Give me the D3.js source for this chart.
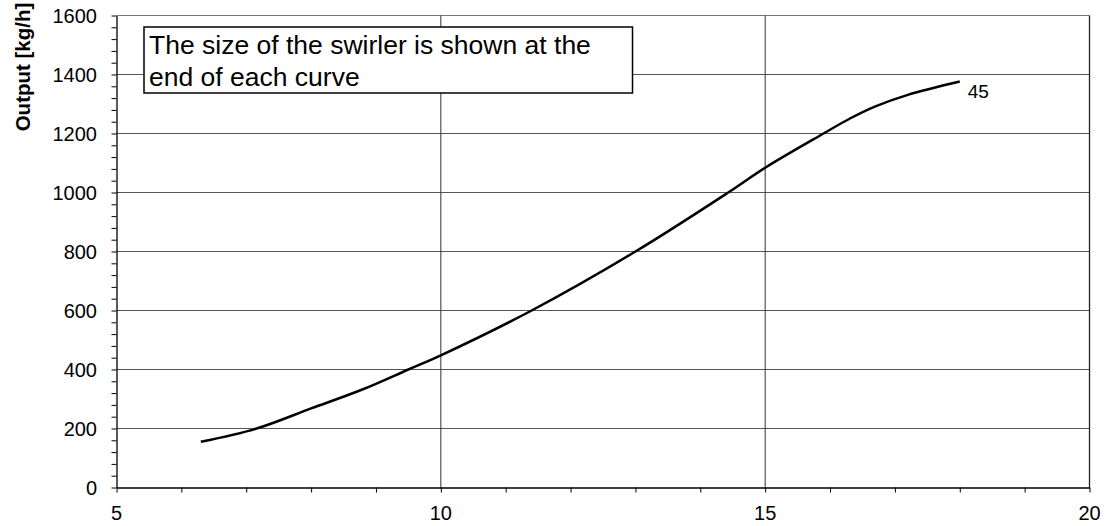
<!DOCTYPE html>
<html>
<head>
<meta charset="utf-8">
<script src="https://cdn.jsdelivr.net/npm/d3@7"></script>
<style>
  body { margin: 0; background: #fff; }
  svg { display: block; font-family: "Liberation Sans", Arial, sans-serif; }
</style>
</head>
<body>
<svg id="chart" width="1109" height="526"></svg>
<script>
// curve values (x, output kg/h)
const curveX = [6.3, 7.16, 8.0, 8.8, 9.5, 10, 11.4, 13.0, 14.43, 15, 15.9, 16.3, 16.7, 17.2, 18];
const curveY = [155, 200, 268, 333, 400, 448, 600, 800, 1000, 1084, 1200, 1250, 1292, 1331, 1376];
const curveLabel = '45';

const xTicks = [5, 10, 15, 20];
const yTicks = [0, 200, 400, 600, 800, 1000, 1200, 1400, 1600];
const xMinor = d3.range(5, 21, 1);
const yMinor = d3.range(0, 1601, 40);

const yTitle = 'Output [kg/h]';
const noteLines = ['The size of the swirler is shown at the', 'end of each curve'];

const plot = { left: 116.5, right: 1089.5, top: 15.5, bottom: 487.5 };

const svg = d3.select('#chart');

const xScale = d3.scaleLinear().domain([5, 20]).range([plot.left, plot.right]);
const yScale = d3.scaleLinear().domain([0, 1600]).range([plot.bottom, plot.top]);

// horizontal gridlines
svg.append('g')
  .selectAll('line')
  .data(yTicks.filter(d => d > 0))
  .join('line')
  .attr('x1', plot.left).attr('x2', plot.right)
  .attr('y1', d => yScale(d)).attr('y2', d => yScale(d))
  .attr('stroke', d => d === 1600 ? '#777' : '#555')
  .attr('stroke-width', 1);

// vertical gridlines
svg.append('g')
  .selectAll('line')
  .data(xTicks.filter(d => d > 5))
  .join('line')
  .attr('x1', d => xScale(d)).attr('x2', d => xScale(d))
  .attr('y1', plot.top).attr('y2', plot.bottom)
  .attr('stroke', d => d === 20 ? '#222' : '#333')
  .attr('stroke-width', d => d === 20 ? 1.3 : 1);

// X axis
const xAxis = svg.append('g')
  .attr('transform', `translate(0, ${plot.bottom})`);
xAxis.call(d3.axisBottom(xScale).tickValues(xMinor).tickFormat('').tickSize(5).tickSizeOuter(0));
xAxis.select('.domain').attr('stroke', '#000').attr('stroke-width', 1.3);
xAxis.selectAll('.tick line').attr('stroke', '#000');

svg.append('g')
  .selectAll('text')
  .data(xTicks)
  .join('text')
  .attr('x', d => xScale(d))
  .attr('y', 520)
  .attr('text-anchor', 'middle')
  .attr('font-size', 20)
  .attr('fill', '#000')
  .text(d => d);

// Y axis
const yAxis = svg.append('g')
  .attr('transform', `translate(${plot.left}, 0)`);
yAxis.call(d3.axisLeft(yScale).tickValues(yMinor).tickFormat('').tickSize(5).tickSizeOuter(0));
yAxis.select('.domain').attr('stroke', '#000').attr('stroke-width', 1.3);
yAxis.selectAll('.tick line').attr('stroke', '#000');

svg.append('g')
  .selectAll('text')
  .data(yTicks)
  .join('text')
  .attr('x', 97)
  .attr('y', d => yScale(d) + 7)
  .attr('text-anchor', 'end')
  .attr('font-size', 20)
  .attr('fill', '#000')
  .text(d => d);

// Y title
svg.append('text')
  .attr('transform', 'translate(30, 67) rotate(-90)')
  .attr('text-anchor', 'middle')
  .attr('font-size', 20.5)
  .attr('font-weight', 'bold')
  .attr('fill', '#000')
  .text(yTitle);

// curve
const pts = curveX.map((x, i) => [x, curveY[i]]);
const line = d3.line()
  .x(d => xScale(d[0]))
  .y(d => yScale(d[1]))
  .curve(d3.curveCatmullRom.alpha(0.5));

svg.append('path')
  .datum(pts)
  .attr('d', line)
  .attr('fill', 'none')
  .attr('stroke', '#000')
  .attr('stroke-width', 2.5);

const last = pts[pts.length - 1];
svg.append('text')
  .attr('x', xScale(last[0]) + 8)
  .attr('y', yScale(last[1]) + 16)
  .attr('font-size', 19)
  .attr('fill', '#000')
  .text(curveLabel);

// note box
const note = svg.append('g');
note.append('rect')
  .attr('x', 144).attr('y', 27)
  .attr('width', 488.5).attr('height', 66)
  .attr('fill', '#fff')
  .attr('stroke', '#000')
  .attr('stroke-width', 1.5);
note.selectAll('text')
  .data(noteLines)
  .join('text')
  .attr('x', 149)
  .attr('y', (d, i) => 54 + i * 32)
  .attr('font-size', 26.5)
  .attr('fill', '#000')
  .text(d => d);
</script>
</body>
</html>
